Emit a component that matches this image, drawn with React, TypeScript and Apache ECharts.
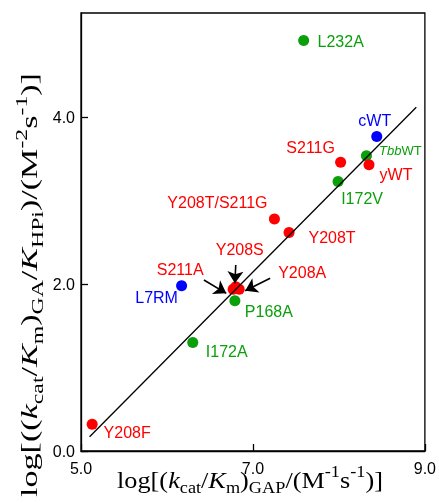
import React, { useEffect, useRef } from 'react';
import * as echarts from 'echarts';

// ---------- data ----------
const pointNames = ['L232A', 'cWT', 'TbbWT', 'S211G', 'yWT', 'I172V', 'Y208T/S211G', 'Y208T', 'Y208S', 'S211A', 'Y208A', 'L7RM', 'P168A', 'I172A', 'Y208F'];
const pointX = [7.59, 8.44, 8.32, 8.02, 8.35, 7.99, 7.25, 7.42, 6.80, 6.77, 6.84, 6.17, 6.79, 6.30, 5.13];
const pointY = [4.92, 3.77, 3.54, 3.46, 3.43, 3.23, 2.78, 2.62, 1.97, 1.94, 1.94, 1.98, 1.80, 1.30, 0.32];
const pointGroup = ['green', 'blue', 'green', 'red', 'red', 'green', 'red', 'red', 'red', 'red', 'red', 'blue', 'green', 'green', 'red'];

const fitX = [5.10, 8.90];
const fitY = [0.17, 4.12];

const arrowFromX = [6.43, 6.80, 7.20];
const arrowFromY = [2.05, 2.23, 2.07];
const arrowToX = [6.69, 6.79, 6.91];
const arrowToY = [1.89, 2.01, 1.92];

const xMin = 5, xMax = 9, xStep = 2;
const yMin = 0, yMax = 5.25, yStep = 2;

// ---------- styles / layout ----------
const groupColor: Record<string, string> = { red: '#ff0000', green: '#0b9f0b', blue: '#0000ff' };
const labelOffset: Record<string, number[]> = {
  'L232A': [37, 1],
  'cWT': [-2, -16],
  'TbbWT': [34, -5],
  'S211G': [-30, -15],
  'yWT': [27, 10],
  'I172V': [24, 17],
  'Y208T/S211G': [-57, -17],
  'Y208T': [43, 5],
  'Y208S': [4, -37],
  'S211A': [-53, -20],
  'Y208A': [63, -17],
  'L7RM': [-25, 12],
  'P168A': [34, 11],
  'I172A': [34, 9],
  'Y208F': [35, 8],
};

const SERIF = '"Liberation Serif", "Times New Roman", serif';
const SANS = '"Liberation Sans", Arial, sans-serif';

type Run = [string, 'n' | 'i' | 's' | 'p'];
const xTitleRuns: Run[] = [
  ['log[(', 'n'], ['k', 'i'], ['cat', 's'], ['/', 'n'], ['K', 'i'], ['m', 's'], [')', 'n'],
  ['GAP', 's'], ['/(M', 'n'], ['-1', 'p'], ['s', 'n'], ['-1', 'p'], [')]', 'n'],
];
const yTitleRuns: Run[] = [
  ['log[((', 'n'], ['k', 'i'], ['cat', 's'], ['/', 'n'], ['K', 'i'], ['m', 's'], [')', 'n'],
  ['GA', 's'], ['/', 'n'], ['K', 'i'], ['HPi', 's'], [')/(M', 'n'], ['-2', 'p'], ['s', 'n'], ['-1', 'p'], [')]', 'n'],
];

function richStyles(main: number, small: number) {
  return {
    n: { fontSize: main, fontFamily: SERIF, lineHeight: 32, fill: '#000' },
    i: { fontSize: main, fontFamily: SERIF, fontStyle: 'italic', lineHeight: 32, fill: '#000' },
    s: { fontSize: small, fontFamily: SERIF, lineHeight: 18, verticalAlign: 'bottom', fill: '#000' },
    p: { fontSize: small, fontFamily: SERIF, lineHeight: 22, verticalAlign: 'top', fill: '#000' },
  };
}

function measureRuns(runs: Run[], main: number, small: number) {
  const ctx = document.createElement('canvas').getContext('2d');
  if (!ctx) return 1;
  let w = 0;
  for (const [t, k] of runs) {
    const size = k === 's' || k === 'p' ? small : main;
    ctx.font = `${k === 'i' ? 'italic ' : ''}${size}px ${SERIF}`;
    w += ctx.measureText(t).width;
  }
  return w;
}

const richText = (runs: Run[]) => runs.map(([t, k]) => `{${k}|${t}}`).join('');

export default function App() {
  const ref = useRef<HTMLDivElement>(null);
  useEffect(() => {
    if (!ref.current) return;
    const chart = echarts.init(ref.current, null, { renderer: 'svg' });

    const xw = measureRuns(xTitleRuns, 23, 16);
    const yw = measureRuns(yTitleRuns, 23, 16);

    const scatterData = pointNames.map((name, i) => {
      const c = groupColor[pointGroup[i]];
      const off = labelOffset[name] || [0, 0];
      const isTbb = name === 'TbbWT';
      return {
        name,
        value: [pointX[i], pointY[i]],
        itemStyle: { color: c, opacity: 1 },
        label: {
          show: true,
          position: 'inside',
          offset: off,
          color: c,
          fontFamily: SANS,
          fontSize: 16,
          formatter: isTbb ? '{it|Tbb}{n|WT}' : name,
          rich: isTbb
            ? {
                it: { fontStyle: 'italic', fontSize: 13, fontFamily: SANS, color: c },
                n: { fontSize: 13, fontFamily: SANS, color: c },
              }
            : undefined,
        },
      };
    });

    const arrowData = arrowFromX.map((_, i) => ({
      coords: [
        [arrowFromX[i], arrowFromY[i]],
        [arrowToX[i], arrowToY[i]],
      ],
    }));

    const option: any = {
      animation: false,
      grid: { left: 81, right: 11, top: 13, bottom: 52, show: true, borderColor: '#000', borderWidth: 1.3, backgroundColor: 'transparent' },
      xAxis: {
        type: 'value', min: xMin, max: xMax, interval: xStep,
        axisLine: { show: true, lineStyle: { color: '#000', width: 1.3 } },
        axisTick: { show: true, inside: true, length: 7, lineStyle: { color: '#000', width: 1.3 } },
        axisLabel: { color: '#000', fontFamily: SANS, fontSize: 16, margin: 9, formatter: (v: number) => v.toFixed(1) },
        splitLine: { show: false },
      },
      yAxis: {
        type: 'value', min: yMin, max: yMax, interval: yStep,
        axisLine: { show: true, lineStyle: { color: '#000', width: 1.3 } },
        axisTick: { show: true, inside: true, length: 7, lineStyle: { color: '#000', width: 1.3 } },
        axisLabel: {
          color: '#000', fontFamily: SANS, fontSize: 16, margin: 6, showMaxLabel: false,
          formatter: (v: number) => (Math.abs(v / yStep - Math.round(v / yStep)) < 1e-6 ? v.toFixed(1) : ''),
        },
        splitLine: { show: false },
      },
      series: [
        {
          type: 'scatter',
          symbol: 'circle',
          symbolSize: 11,
          itemStyle: { opacity: 1 },
          data: scatterData,
          z: 2,
        },
        {
          type: 'line',
          data: fitX.map((x, i) => [x, fitY[i]]),
          symbol: 'none',
          lineStyle: { color: '#000', width: 1.3 },
          z: 3,
          silent: true,
        },
        {
          type: 'lines',
          coordinateSystem: 'cartesian2d',
          data: arrowData,
          symbol: ['none', 'arrow'],
          symbolSize: 12,
          lineStyle: { color: '#000', width: 1.6, opacity: 1, curveness: 0 },
          z: 4,
          silent: true,
        },
      ],
      graphic: [
        {
          type: 'text',
          x: 250,
          y: 480,
          scaleX: 266 / xw,
          style: {
            text: richText(xTitleRuns),
            rich: richStyles(23, 16),
            align: 'center',
            verticalAlign: 'middle',
            fill: '#000',
          },
        },
        {
          type: 'text',
          x: 29,
          y: 285,
          rotation: Math.PI / 2,
          scaleX: 424 / yw,
          style: {
            text: richText(yTitleRuns),
            rich: richStyles(23, 16),
            align: 'center',
            verticalAlign: 'middle',
            fill: '#000',
          },
        },
      ],
    };
    chart.setOption(option);
    return () => chart.dispose();
  }, []);
  return <div ref={ref} style={{ position: 'fixed', left: 0, top: 0, width: 439, height: 503 }} />;
}
